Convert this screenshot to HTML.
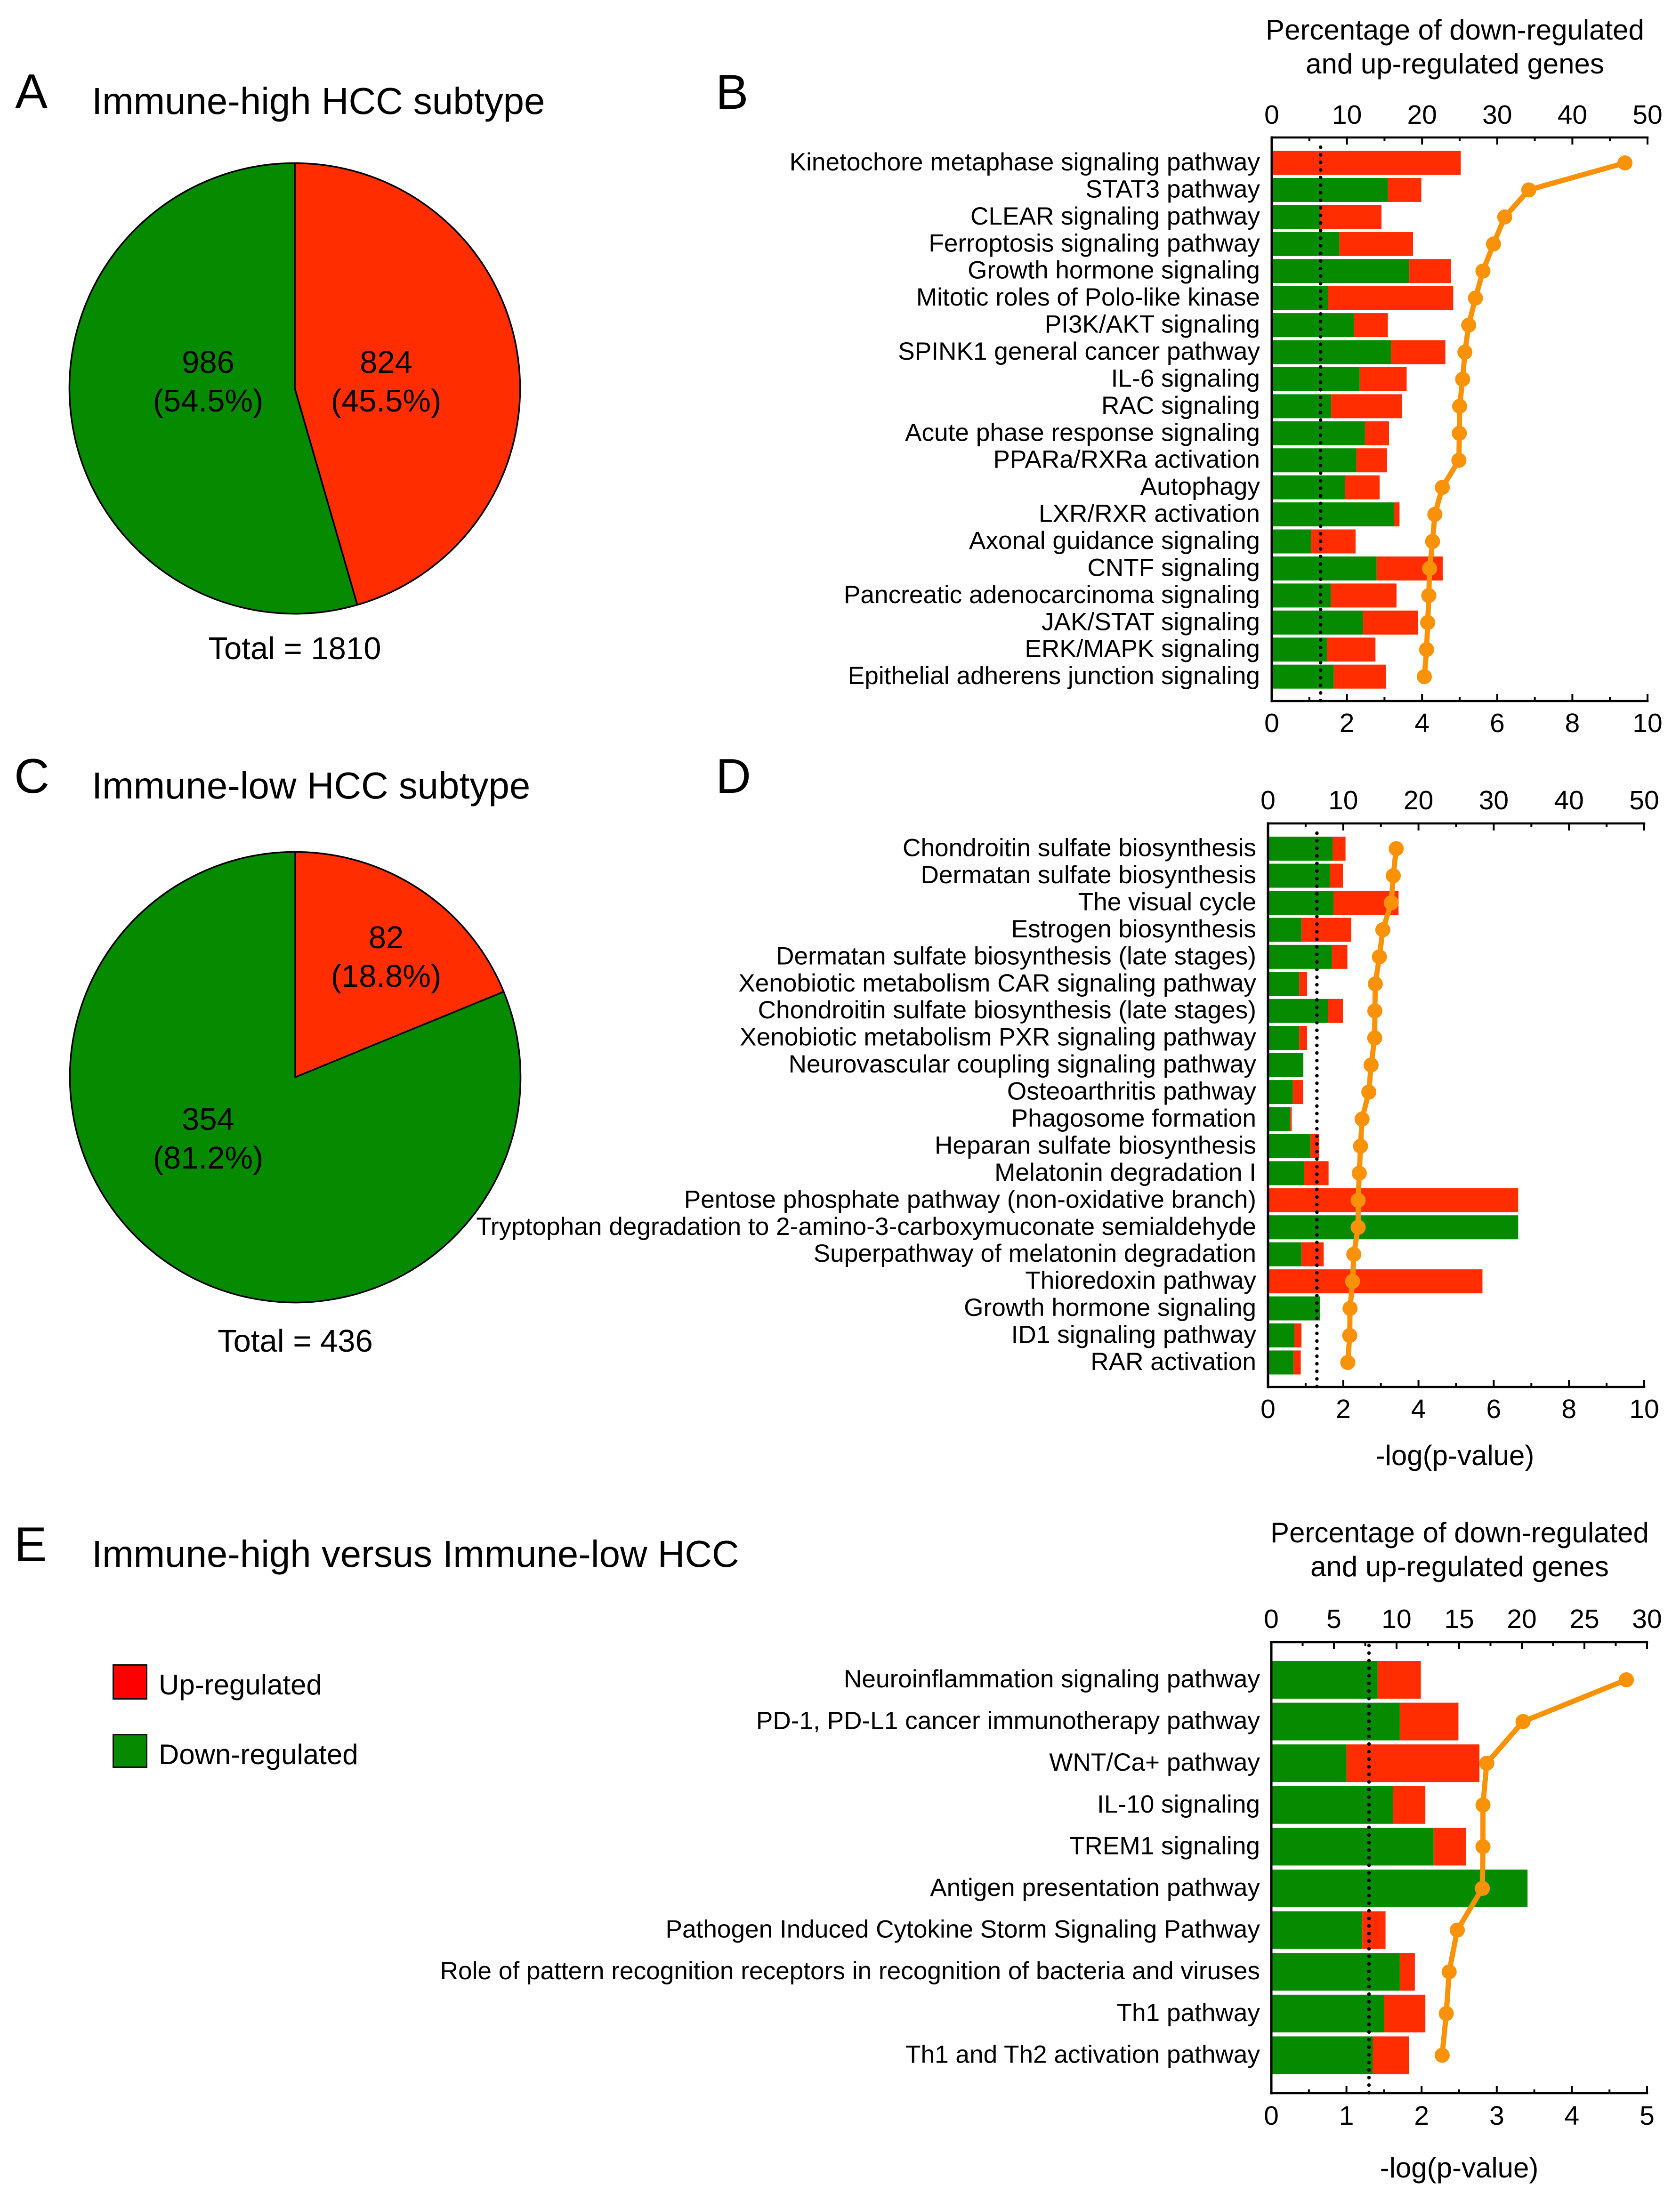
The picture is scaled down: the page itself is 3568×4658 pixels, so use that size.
<!DOCTYPE html>
<html lang="en">
<head>
<meta charset="utf-8">
<title>Immune HCC subtype pathway analysis</title>
<style>
html,body{margin:0;padding:0;background:#fff;}
body{width:3568px;height:4658px;overflow:hidden;}
svg{display:block;}
text{font-family:"Liberation Sans",Arial,sans-serif;fill:#000;}
</style>
</head>
<body>
<svg id="figure" xmlns="http://www.w3.org/2000/svg" width="3568" height="4658" viewBox="0 0 3568 4658">
  <rect x="0" y="0" width="3568" height="4658" fill="#ffffff"/>

  <text x="32" y="230" font-size="104">A</text>
  <text x="1520" y="231" font-size="104">B</text>
  <text x="30" y="1684" font-size="104">C</text>
  <text x="1520" y="1684" font-size="104">D</text>
  <text x="30" y="3316" font-size="104">E</text>

  <text x="195" y="242" font-size="79.8">Immune-high HCC subtype</text>
  <text x="195" y="1696" font-size="79.8">Immune-low HCC subtype</text>
  <text x="195" y="3328" font-size="79.8">Immune-high versus Immune-low HCC</text>

  <text x="3090" y="84" font-size="60" text-anchor="middle">Percentage of down-regulated</text>
  <text x="3090" y="156" font-size="60" text-anchor="middle">and up-regulated genes</text>
  <text x="3100" y="3276" font-size="60" text-anchor="middle">Percentage of down-regulated</text>
  <text x="3100" y="3348" font-size="60" text-anchor="middle">and up-regulated genes</text>

  <text x="3090" y="3112" font-size="60" text-anchor="middle">-log(p-value)</text>
  <text x="3099" y="4625" font-size="60" text-anchor="middle">-log(p-value)</text>

  <rect x="240.5" y="3536.5" width="71" height="72" fill="#ff0000" stroke="#111" stroke-width="3"/>
  <text x="337" y="3599" font-size="60">Up-regulated</text>
  <rect x="240.5" y="3684.5" width="71" height="69" fill="#068b00" stroke="#111" stroke-width="3"/>
  <text x="337" y="3747" font-size="60">Down-regulated</text>

  <g id="pie-a"></g>
  <g id="pie-c"></g>
  <g id="chart-b"></g>
  <g id="chart-d"></g>
  <g id="chart-e"></g>
</svg>

<script>
/* ---------- Pie data ---------- */
var pieAValues = [824, 986];
var pieAPercents = ['(45.5%)', '(54.5%)'];
var pieATotal = 'Total = 1810';
var pieCValues = [82, 354];
var pieCPercents = ['(18.8%)', '(81.2%)'];
var pieCTotal = 'Total = 436';

/* ---------- Panel B data ---------- */
var bLabels = ['Kinetochore metaphase signaling pathway','STAT3 pathway','CLEAR signaling pathway','Ferroptosis signaling pathway','Growth hormone signaling','Mitotic roles of Polo-like kinase','PI3K/AKT signaling','SPINK1 general cancer pathway','IL-6 signaling','RAC signaling','Acute phase response signaling','PPARa/RXRa activation','Autophagy','LXR/RXR activation','Axonal guidance signaling','CNTF signaling','Pancreatic adenocarcinoma signaling','JAK/STAT signaling','ERK/MAPK signaling','Epithelial adherens junction signaling'];
var bDown = [0,3.09,1.29,1.80,3.66,1.50,2.19,3.17,2.34,1.58,2.48,2.25,1.95,3.25,1.04,2.79,1.57,2.43,1.47,1.65];
var bUp = [5.03,0.89,1.63,1.96,1.11,3.33,0.90,1.45,1.25,1.88,0.64,0.82,0.92,0.15,1.19,1.76,1.75,1.46,1.29,1.39];
var bPercent = [47.0,34.2,31.0,29.5,28.1,27.1,26.2,25.7,25.4,25.0,24.96,24.9,22.7,21.7,21.4,21.0,20.9,20.75,20.6,20.3];
var bTopTicks = [0,10,20,30,40,50];
var bBottomTicks = [0,2,4,6,8,10];

/* ---------- Panel D data ---------- */
var dLabels = ['Chondroitin sulfate biosynthesis','Dermatan sulfate biosynthesis','The visual cycle','Estrogen biosynthesis','Dermatan sulfate biosynthesis (late stages)','Xenobiotic metabolism CAR signaling pathway','Chondroitin sulfate biosynthesis (late stages)','Xenobiotic metabolism PXR signaling pathway','Neurovascular coupling signaling pathway','Osteoarthritis pathway','Phagosome formation','Heparan sulfate biosynthesis','Melatonin degradation I','Pentose phosphate pathway (non-oxidative branch)','Tryptophan degradation to 2-amino-3-carboxymuconate semialdehyde','Superpathway of melatonin degradation','Thioredoxin pathway','Growth hormone signaling','ID1 signaling pathway','RAR activation'];
var dDown = [1.72,1.65,1.74,0.89,1.70,0.83,1.59,0.83,0.94,0.66,0.59,1.13,0.96,0,6.65,0.89,0,1.39,0.70,0.68];
var dUp = [0.34,0.34,1.73,1.32,0.41,0.21,0.40,0.21,0,0.27,0.04,0.23,0.65,6.65,0,0.59,5.70,0,0.19,0.19];
var dPercent = [17.04,16.65,16.38,15.26,14.8,14.26,14.2,14.18,13.7,13.4,12.5,12.3,12.13,11.98,11.98,11.4,11.24,10.9,10.86,10.6];
var dTopTicks = [0,10,20,30,40,50];
var dBottomTicks = [0,2,4,6,8,10];

/* ---------- Panel E data ---------- */
var eLabels = ['Neuroinflammation signaling pathway','PD-1, PD-L1 cancer immunotherapy pathway','WNT/Ca+ pathway','IL-10 signaling','TREM1 signaling','Antigen presentation pathway','Pathogen Induced Cytokine Storm Signaling Pathway','Role of pattern recognition receptors in recognition of bacteria and viruses','Th1 pathway','Th1 and Th2 activation pathway'];
var eDown = [1.415,1.71,1.0,1.62,2.16,3.41,1.21,1.71,1.50,1.35];
var eUp = [0.575,0.78,1.77,0.43,0.43,0,0.31,0.20,0.55,0.48];
var ePercent = [28.35,20.1,17.2,16.9,16.9,16.85,14.85,14.2,13.97,13.64];
var eTopTicks = [0,5,10,15,20,25,30];
var eBottomTicks = [0,1,2,3,4,5];

/* Significance threshold, -log(0.05) */
var significanceLine = 1.3;

var NS = 'http://www.w3.org/2000/svg';
var RED = '#ff2d00';
var GREEN = '#068b00';
var ORANGE = '#f99208';

function make(parent, tag, attrs, content) {
  var el = document.createElementNS(NS, tag);
  for (var k in attrs) { el.setAttribute(k, attrs[k]); }
  if (content !== undefined) { el.textContent = content; }
  parent.appendChild(el);
  return el;
}

function drawPie(id, prefix, values, percents, totalText, geo) {
  var g = document.getElementById(id);
  var sum = values[0] + values[1];
  var angle = values[0] / sum * 2 * Math.PI;
  var ex = geo.cx + geo.r * Math.sin(angle);
  var ey = geo.cy - geo.r * Math.cos(angle);
  var topY = geo.cy - geo.r;
  var large0 = angle > Math.PI ? 1 : 0;
  var large1 = angle > Math.PI ? 0 : 1;

  var up = make(g, 'path', {
    d: 'M' + geo.cx + ' ' + geo.cy + ' L' + geo.cx + ' ' + topY + ' A' + geo.r + ' ' + geo.r + ' 0 ' + large0 + ' 1 ' + ex + ' ' + ey + ' Z',
    fill: RED, stroke: '#000', 'stroke-width': 3.5, 'stroke-linejoin': 'round'
  });
  
  

  var down = make(g, 'path', {
    d: 'M' + geo.cx + ' ' + geo.cy + ' L' + ex + ' ' + ey + ' A' + geo.r + ' ' + geo.r + ' 0 ' + large1 + ' 1 ' + geo.cx + ' ' + topY + ' Z',
    fill: GREEN, stroke: '#000', 'stroke-width': 3.5, 'stroke-linejoin': 'round'
  });
  
  

  for (var i = 0; i < 2; i++) {
    var count = make(g, 'text', { x: geo.labelX[i], y: geo.labelY[i], 'font-size': 67, 'text-anchor': 'middle' }, String(values[i]));
    
    
    var pct = make(g, 'text', { x: geo.labelX[i], y: geo.labelY[i] + 82, 'font-size': 67, 'text-anchor': 'middle' }, percents[i]);
    
    
  }
  var total = make(g, 'text', { x: geo.cx, y: geo.totalY, 'font-size': 67, 'text-anchor': 'middle' }, totalText);
  
  
}

function drawBarChart(id, prefix, labels, down, up, percent, topTicks, bottomTicks, geo) {
  var g = document.getElementById(id);
  var topMax = topTicks[topTicks.length - 1];
  var bottomMax = bottomTicks[bottomTicks.length - 1];
  function xBottom(v) { return geo.x0 + (geo.x1 - geo.x0) * v / bottomMax; }
  function xTop(v) { return geo.x0 + (geo.x1 - geo.x0) * v / topMax; }
  function yRow(i) { return geo.firstY + geo.pitch * i; }

  var i;
  for (i = 0; i < labels.length; i++) {
    var label = make(g, 'text', { x: geo.labelX, y: yRow(i) + geo.labelDy, 'font-size': 53.2, 'text-anchor': 'end' }, labels[i]);
    
    

    if (down[i] > 0) {
      var gb = make(g, 'rect', { x: xBottom(0), y: yRow(i) - geo.barH / 2, width: xBottom(down[i]) - xBottom(0), height: geo.barH, fill: GREEN });
      
      
    }
    if (up[i] > 0) {
      var rb = make(g, 'rect', { x: xBottom(down[i]), y: yRow(i) - geo.barH / 2, width: xBottom(down[i] + up[i]) - xBottom(down[i]), height: geo.barH, fill: RED });
      
      
    }
  }

  var sig = make(g, 'line', {
    x1: xBottom(significanceLine), x2: xBottom(significanceLine), y1: geo.yBottom - 1, y2: geo.yTop + 6,
    stroke: '#000', 'stroke-width': 7.5, 'stroke-dasharray': '0.1 16', 'stroke-linecap': 'round'
  });
  
  

  var pts = '';
  for (i = 0; i < percent.length; i++) { pts += xTop(percent[i]) + ',' + yRow(i) + ' '; }
  var polyline = make(g, 'polyline', { points: pts, fill: 'none', stroke: ORANGE, 'stroke-width': 11, 'stroke-linejoin': 'round' });
  
  
  for (i = 0; i < percent.length; i++) {
    var dot = make(g, 'circle', { cx: xTop(percent[i]), cy: yRow(i), r: 16, fill: ORANGE });
    
    
  }

  var axisAttrs = { stroke: '#000', 'stroke-linecap': 'square', fill: 'none' };
  var leftAxis = make(g, 'line', Object.assign({ x1: geo.x0, x2: geo.x0, y1: geo.yTop, y2: geo.yBottom, 'stroke-width': 5 }, axisAttrs));
  
  
  var topAxis = make(g, 'line', Object.assign({ x1: geo.x0, x2: geo.x1, y1: geo.yTop, y2: geo.yTop, 'stroke-width': 4.5 }, axisAttrs));
  
  
  var bottomAxis = make(g, 'line', Object.assign({ x1: geo.x0, x2: geo.x1, y1: geo.yBottom, y2: geo.yBottom, 'stroke-width': 4.5 }, axisAttrs));
  
  

  function tickLine(x, y, dir, len, name) {
    var t = make(g, 'line', { x1: x, x2: x, y1: y, y2: y + dir * len, stroke: '#000', 'stroke-width': 4 });
    
    
  }

  for (i = 0; i < topTicks.length; i++) {
    var tx = xTop(topTicks[i]);
    tickLine(tx, geo.yTop, 1, 15, prefix + '-top-major-tick');
    if (i < topTicks.length - 1) {
      tickLine(xTop((topTicks[i] + topTicks[i + 1]) / 2), geo.yTop, 1, 8, prefix + '-top-minor-tick');
    }
    var tl = make(g, 'text', { x: tx, y: geo.topLabelY, 'font-size': 57, 'text-anchor': 'middle' }, String(topTicks[i]));
    
    
  }
  for (i = 0; i < bottomTicks.length; i++) {
    var bx = xBottom(bottomTicks[i]);
    tickLine(bx, geo.yBottom, -1, 15, prefix + '-bottom-major-tick');
    if (i < bottomTicks.length - 1) {
      tickLine(xBottom((bottomTicks[i] + bottomTicks[i + 1]) / 2), geo.yBottom, -1, 8, prefix + '-bottom-minor-tick');
    }
    var bl = make(g, 'text', { x: bx, y: geo.bottomLabelY, 'font-size': 57, 'text-anchor': 'middle' }, String(bottomTicks[i]));
    
    
  }
}

drawPie('pie-a', 'pie-a', pieAValues, pieAPercents, pieATotal, {
  cx: 626, cy: 825, r: 478.5, labelX: [820, 442], labelY: [792, 792], totalY: 1400
});
drawPie('pie-c', 'pie-c', pieCValues, pieCPercents, pieCTotal, {
  cx: 627, cy: 2288, r: 478.5, labelX: [820, 442], labelY: [2014, 2400], totalY: 2871
});
drawBarChart('chart-b', 'b', bLabels, bDown, bUp, bPercent, bTopTicks, bBottomTicks, {
  x0: 2701, x1: 3499, yTop: 292, yBottom: 1489, firstY: 346, pitch: 57.43, barH: 51,
  labelX: 2676, labelDy: 16, topLabelY: 263, bottomLabelY: 1555
});
drawBarChart('chart-d', 'd', dLabels, dDown, dUp, dPercent, dTopTicks, dBottomTicks, {
  x0: 2693, x1: 3492, yTop: 1749, yBottom: 2946, firstY: 1802.6, pitch: 57.44, barH: 51,
  labelX: 2668, labelDy: 16, topLabelY: 1719, bottomLabelY: 3012
});
drawBarChart('chart-e', 'e', eLabels, eDown, eUp, ePercent, eTopTicks, eBottomTicks, {
  x0: 2700, x1: 3498, yTop: 3488, yBottom: 4446, firstY: 3568, pitch: 88.6, barH: 80,
  labelX: 2676, labelDy: 16, topLabelY: 3458, bottomLabelY: 4513
});
</script>
</body>
</html>
